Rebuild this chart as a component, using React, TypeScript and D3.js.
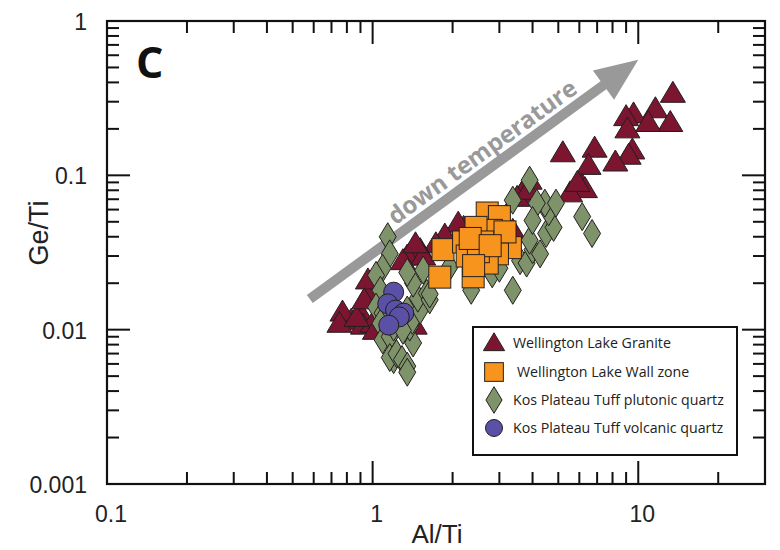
import React from "react";
import * as d3 from "d3";

const W = 780;
const H = 550;
const M = { left: 107, right: 765, top: 21, bottom: 484 };

const xDomain: [number, number] = [0.1, 30];
const yDomain: [number, number] = [0.001, 1];
const xTickLabels = [0.1, 1, 10];
const yTickLabels = [0.001, 0.01, 0.1, 1];

// Wellington Lake Granite [Al/Ti, Ge/Ti]
const granite: [number, number][] = [
  [13.5, 0.34], [9.6, 0.25], [9.0, 0.24], [11.6, 0.27], [13.2, 0.22], [10.9, 0.22],
  [9.1, 0.2], [9.5, 0.146], [9.2, 0.135], [8.2, 0.122], [6.85, 0.15], [6.5, 0.116],
  [5.2, 0.14], [6.15, 0.086], [6.3, 0.082], [5.54, 0.077], [5.9, 0.09],
  [3.9, 0.093], [3.65, 0.077], [3.5, 0.072], [3.85, 0.08], [3.37, 0.044],
  [2.2, 0.046], [2.1, 0.049], [1.87, 0.041], [1.73, 0.036], [1.51, 0.033], [1.42, 0.033],
  [1.41, 0.031], [1.35, 0.03], [1.55, 0.03], [1.3, 0.028], [1.45, 0.036],
  [0.98, 0.018], [0.96, 0.021], [0.9, 0.0128], [0.83, 0.0115], [0.77, 0.013],
  [0.75, 0.011], [0.92, 0.0107], [1.0, 0.011], [1.02, 0.0099], [0.87, 0.012],
  [0.93, 0.0156], [1.44, 0.0107],
];

// Kos Plateau Tuff plutonic quartz
const plutonic: [number, number][] = [
  [1.14, 0.04], [1.16, 0.031], [1.09, 0.025], [1.03, 0.0225], [1.07, 0.018], [1.03, 0.014],
  [1.09, 0.0128], [1.07, 0.011], [1.09, 0.0086], [1.16, 0.009], [1.2, 0.0104], [1.2, 0.0064],
  [1.16, 0.0066], [1.23, 0.007], [1.29, 0.0064], [1.35, 0.0058], [1.35, 0.0053], [1.42, 0.0082],
  [1.38, 0.0104], [1.41, 0.0115], [1.35, 0.0134], [1.3, 0.0099], [1.51, 0.0134], [1.48, 0.016],
  [1.6, 0.0172], [1.64, 0.0156], [1.42, 0.02], [1.35, 0.0235], [1.55, 0.0243], [1.64, 0.017],
  [1.95, 0.0255], [2.35, 0.018], [2.82, 0.023], [3.0, 0.025], [3.37, 0.018], [3.59, 0.028],
  [3.8, 0.027], [4.0, 0.033], [4.27, 0.031], [3.9, 0.038], [4.5, 0.042], [4.8, 0.046],
  [4.6, 0.058], [4.45, 0.066], [4.15, 0.066], [4.0, 0.051], [3.37, 0.069], [3.9, 0.093],
  [4.9, 0.066], [6.15, 0.054], [6.7, 0.042],
];

// Wellington Lake Wall zone
const wallZone: [number, number][] = [
  [1.84, 0.033], [1.79, 0.0219], [2.39, 0.022], [2.7, 0.057], [3.0, 0.054], [2.8, 0.044],
  [2.45, 0.046], [2.6, 0.037], [2.2, 0.037], [3.3, 0.034], [2.95, 0.031], [2.7, 0.027],
  [2.27, 0.03], [2.5, 0.032], [2.33, 0.039], [3.15, 0.043], [2.77, 0.035], [2.4, 0.026],
];

// Kos Plateau Tuff volcanic quartz
const volcanic: [number, number][] = [
  [1.2, 0.0175], [1.14, 0.0147], [1.22, 0.0134], [1.31, 0.0128], [1.26, 0.0121], [1.15, 0.0107],
];

const arrowFrom: [number, number] = [0.58, 0.0158];
const arrowTo: [number, number] = [10, 0.56];

const legendItems = [
  { label: "Wellington Lake Granite", shape: "triangle" },
  { label: "Wellington Lake Wall zone", shape: "square" },
  { label: "Kos Plateau Tuff plutonic quartz", shape: "diamond" },
  { label: "Kos Plateau Tuff volcanic quartz", shape: "circle" },
];

const COLORS: Record<string, string> = {
  triangle: "#7b1530",
  square: "#f7941d",
  diamond: "#7f936a",
  circle: "#5a50a6",
};
const STROKE = "#231f20";

function Marker({ shape, x, y, s = 1 }: { shape: string; x: number; y: number; s?: number }) {
  const fill = COLORS[shape];
  if (shape === "triangle") {
    return (
      <path
        d={`M${x},${y - 12 * s} L${x + 12.5 * s},${y + 9 * s} L${x - 12.5 * s},${y + 9 * s} Z`}
        fill={fill}
        stroke={STROKE}
        strokeWidth={1}
      />
    );
  }
  if (shape === "square") {
    const h = 11 * s;
    return <rect x={x - h} y={y - h} width={2 * h} height={2 * h} fill={fill} stroke={STROKE} strokeWidth={1} />;
  }
  if (shape === "diamond") {
    return (
      <path
        d={`M${x},${y - 14 * s} L${x + 8.5 * s},${y} L${x},${y + 14 * s} L${x - 8.5 * s},${y} Z`}
        fill={fill}
        stroke={STROKE}
        strokeWidth={1}
      />
    );
  }
  return <circle cx={x} cy={y} r={10 * s} fill={fill} stroke={STROKE} strokeWidth={1} />;
}

export default function App() {
  const x = d3.scaleLog().domain(xDomain).range([M.left, M.right]);
  const y = d3.scaleLog().domain(yDomain).range([M.bottom, M.top]);

  const isDecade = (v: number) => Math.abs(Math.log10(v) - Math.round(Math.log10(v))) < 1e-9;
  const xTicks = x.ticks().filter((v) => v > xDomain[0] * 1.0001 && v < xDomain[1] * 0.9999);
  const yTicks = y.ticks().filter((v) => v > yDomain[0] * 1.0001 && v < yDomain[1] * 0.9999);
  const minorLen = 12;
  const majorLen = 23;

  // arrow geometry
  const x0 = x(arrowFrom[0]);
  const y0 = y(arrowFrom[1]);
  const x1 = x(arrowTo[0]);
  const y1 = y(arrowTo[1]);
  const len = Math.hypot(x1 - x0, y1 - y0);
  const ux = (x1 - x0) / len;
  const uy = (y1 - y0) / len;
  const nx = -uy;
  const ny = ux;
  const headL = 43;
  const headW = 18;
  const bx = x1 - headL * ux;
  const by = y1 - headL * uy;
  const angle = (Math.atan2(y1 - y0, x1 - x0) * 180) / Math.PI;
  const tDist = 226;
  const tx = x0 + tDist * ux;
  const ty = y0 + tDist * uy;

  const tickFont = "'Liberation Sans', Arial, sans-serif";
  const leg = { x: 473, y: 327, w: 264, h: 128 };
  const legRows = [343, 372, 400, 428];

  return (
    <svg width={W} height={H} style={{ position: "absolute", left: 0, top: 0, background: "#fff" }}>
      <rect x={0} y={0} width={W} height={H} fill="#fff" />

      {/* arrow */}
      <line x1={x0} y1={y0} x2={bx + 2 * ux} y2={by + 2 * uy} stroke="#999999" strokeWidth={10} />
      <path
        d={`M${x1},${y1} L${bx + headW * nx},${by + headW * ny} L${bx - headW * nx},${by - headW * ny} Z`}
        fill="#999999"
      />
      <text
        transform={`translate(${tx},${ty}) rotate(${angle})`}
        y={-9}
        textAnchor="middle"
        fontFamily="'Open Sans', sans-serif"
        fontWeight="bold"
        fontSize={24}
        fill="#999999"
      >
        down temperature
      </text>

      {/* data */}
      {granite.map((d, i) => (
        <Marker key={"g" + i} shape="triangle" x={x(d[0])} y={y(d[1])} />
      ))}
      {plutonic.map((d, i) => (
        <Marker key={"p" + i} shape="diamond" x={x(d[0])} y={y(d[1])} />
      ))}
      {wallZone.map((d, i) => (
        <Marker key={"w" + i} shape="square" x={x(d[0])} y={y(d[1])} />
      ))}
      {volcanic.map((d, i) => (
        <Marker key={"v" + i} shape="circle" x={x(d[0])} y={y(d[1])} />
      ))}

      {/* frame */}
      <rect
        x={M.left}
        y={M.top}
        width={M.right - M.left}
        height={M.bottom - M.top}
        fill="none"
        stroke="#111"
        strokeWidth={2.2}
      />
      {xTicks.map((v, i) => {
        const L = isDecade(v) ? majorLen : minorLen;
        const px = x(v);
        return (
          <g key={"xt" + i}>
            <line x1={px} x2={px} y1={M.bottom} y2={M.bottom - L} stroke="#111" strokeWidth={2} />
            <line x1={px} x2={px} y1={M.top} y2={M.top + L} stroke="#111" strokeWidth={2} />
          </g>
        );
      })}
      {yTicks.map((v, i) => {
        const L = isDecade(v) ? majorLen : minorLen;
        const py = y(v);
        return (
          <g key={"yt" + i}>
            <line x1={M.left} x2={M.left + L} y1={py} y2={py} stroke="#111" strokeWidth={2} />
            <line x1={M.right} x2={M.right - L} y1={py} y2={py} stroke="#111" strokeWidth={2} />
          </g>
        );
      })}

      {xTickLabels.map((v, i) => (
        <text
          key={"xl" + i}
          x={x(v) + 4}
          y={522}
          textAnchor="middle"
          fontFamily={tickFont}
          fontSize={23}
          fill="#222"
        >
          {String(v)}
        </text>
      ))}
      {yTickLabels.map((v, i) => (
        <text
          key={"yl" + i}
          x={87}
          y={y(v) + 9}
          textAnchor="end"
          fontFamily={tickFont}
          fontSize={23}
          fill="#222"
        >
          {String(v)}
        </text>
      ))}

      <text x={437} y={543} textAnchor="middle" fontFamily={tickFont} fontSize={26} fill="#222">
        Al/Ti
      </text>
      <text
        transform={`translate(48,233) rotate(-90)`}
        textAnchor="middle"
        fontFamily={tickFont}
        fontSize={27}
        fill="#222"
      >
        Ge/Ti
      </text>

      <text x={136} y={78} fontFamily="'Open Sans', sans-serif" fontWeight="bold" fontSize={43} fill="#111">
        C
      </text>

      {/* legend */}
      <rect x={leg.x} y={leg.y} width={leg.w} height={leg.h} fill="#fff" stroke="#111" strokeWidth={2} />
      {legendItems.map((it, i) => (
        <g key={"lg" + i}>
          <Marker shape={it.shape} x={494} y={legRows[i]} s={it.shape === "diamond" ? 0.95 : 0.85} />
          <text
            x={it.shape === "square" ? 517 : 513}
            y={legRows[i] + 5}
            fontFamily="'Open Sans', sans-serif"
            fontSize={14.2}
            fill="#222"
          >
            {it.label}
          </text>
        </g>
      ))}
    </svg>
  );
}
